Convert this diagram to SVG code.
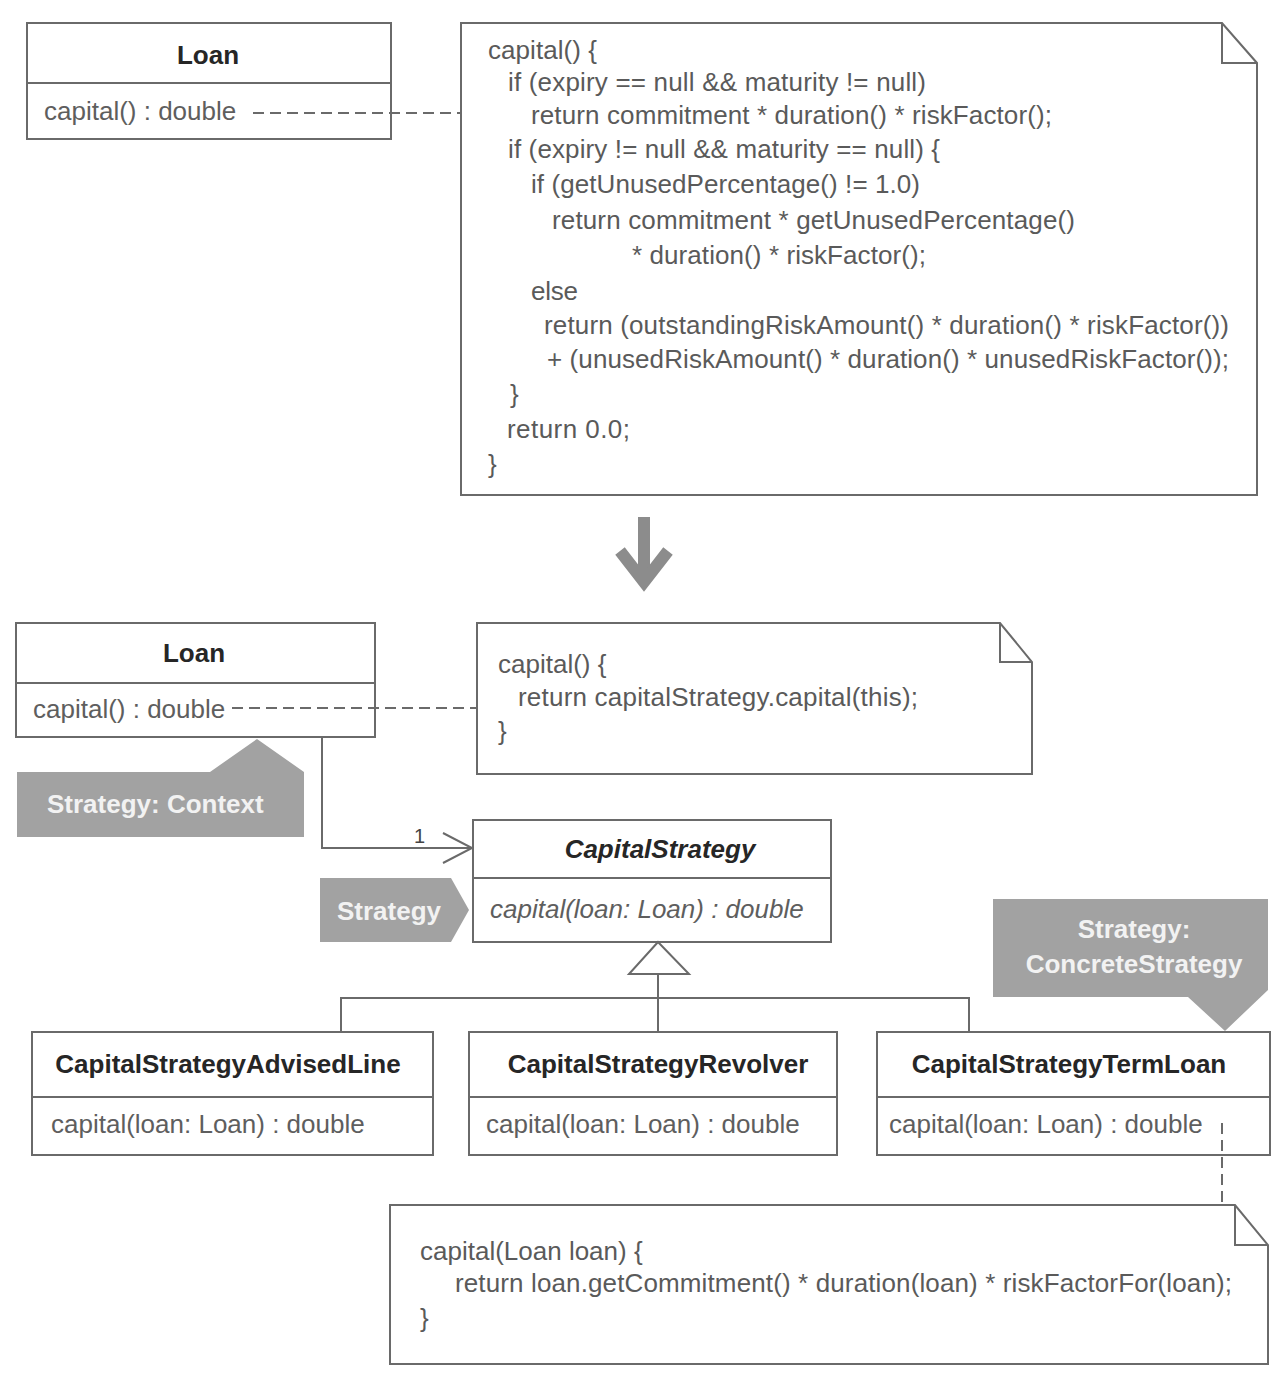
<svg xmlns="http://www.w3.org/2000/svg" width="1286" height="1394" viewBox="0 0 1286 1394">
<style>
  .box{fill:#fff;stroke:#6a6a6a;stroke-width:2}
  .ln{fill:none;stroke:#6a6a6a;stroke-width:2}
  .dash{fill:none;stroke:#6a6a6a;stroke-width:2;stroke-dasharray:11 6}
  .code{font-family:"Liberation Sans",Arial,sans-serif;font-size:26px;fill:#5a5a5a}
  .name{font-family:"Liberation Sans",Arial,sans-serif;font-size:26px;font-weight:bold;fill:#262626}
  .meth{font-family:"Liberation Sans",Arial,sans-serif;font-size:26px;fill:#5e5e5e}
  .tag{fill:#a2a2a2;stroke:none}
  .tagt{font-family:"Liberation Sans",Arial,sans-serif;font-size:26px;font-weight:bold;fill:#f2f2f2}
</style>
<rect width="1286" height="1394" fill="#fff"/>

<g id="loan-before">
  <rect class="box" x="27" y="23" width="364" height="116"/>
  <line class="ln" x1="27" y1="83" x2="391" y2="83"/>
  <text class="name" x="208" y="64" text-anchor="middle">Loan</text>
  <text class="meth" x="44" y="120">capital() : double</text>
</g>

<g id="note-before">
  <polygon class="box" points="461,23 1222,23 1257,63 1257,495 461,495"/>
  <polyline class="ln" points="1222,23 1222,63 1257,63"/>
  <text class="code" x="488" y="59" textLength="109">capital() {</text>
  <text class="code" x="508" y="91" textLength="418">if (expiry == null &amp;&amp; maturity != null)</text>
  <text class="code" x="531" y="124" textLength="521">return commitment * duration() * riskFactor();</text>
  <text class="code" x="508" y="158" textLength="432">if (expiry != null &amp;&amp; maturity == null) {</text>
  <text class="code" x="531" y="193" textLength="389">if (getUnusedPercentage() != 1.0)</text>
  <text class="code" x="552" y="229" textLength="523">return commitment * getUnusedPercentage()</text>
  <text class="code" x="632" y="264" textLength="294">* duration() * riskFactor();</text>
  <text class="code" x="531" y="300" textLength="47">else</text>
  <text class="code" x="544" y="334" textLength="685">return (outstandingRiskAmount() * duration() * riskFactor())</text>
  <text class="code" x="547" y="368" textLength="682">+ (unusedRiskAmount() * duration() * unusedRiskFactor());</text>
  <text class="code" x="510" y="403">}</text>
  <text class="code" x="507" y="438" textLength="123">return 0.0;</text>
  <text class="code" x="488" y="473">}</text>
</g>

<g id="loan-after">
  <rect class="box" x="16" y="623" width="359" height="114"/>
  <line class="ln" x1="16" y1="683" x2="375" y2="683"/>
  <text class="name" x="194" y="662" text-anchor="middle">Loan</text>
  <text class="meth" x="33" y="718">capital() : double</text>
</g>

<g id="tag-context">
  <polygon class="tag" points="17,772 210,772 257,739 304,772 304,837 17,837"/>
  <text class="tagt" x="47" y="813">Strategy: Context</text>
</g>

<g id="note-after">
  <polygon class="box" points="477,623 1000,623 1032,662 1032,774 477,774"/>
  <polyline class="ln" points="1000,623 1000,662 1032,662"/>
  <text class="code" x="498" y="673">capital() {</text>
  <text class="code" x="518" y="706" textLength="400">return capitalStrategy.capital(this);</text>
  <text class="code" x="498" y="740">}</text>
</g>

<g id="capital-strategy">
  <rect class="box" x="473" y="820" width="358" height="122"/>
  <line class="ln" x1="473" y1="878" x2="831" y2="878"/>
  <text class="name" x="660" y="858" text-anchor="middle" font-style="italic">CapitalStrategy</text>
  <text class="meth" x="490" y="918" font-style="italic">capital(loan: Loan) : double</text>
</g>

<g id="tag-strategy">
  <polygon class="tag" points="320,878 451,878 469,910 451,942 320,942"/>
  <text class="tagt" x="337" y="920">Strategy</text>
</g>

<g id="tag-concrete">
  <polygon class="tag" points="993,899 1268,899 1268,990 1225,1031 1188,997 993,997"/>
  <text class="tagt" x="1134" y="938" text-anchor="middle">Strategy:</text>
  <text class="tagt" x="1134" y="973" text-anchor="middle">ConcreteStrategy</text>
</g>

<g id="advised-line">
  <rect class="box" x="32" y="1032" width="401" height="123"/>
  <line class="ln" x1="32" y1="1097" x2="433" y2="1097"/>
  <text class="name" x="228" y="1073" text-anchor="middle">CapitalStrategyAdvisedLine</text>
  <text class="meth" x="51" y="1133">capital(loan: Loan) : double</text>
</g>

<g id="revolver">
  <rect class="box" x="469" y="1032" width="368" height="123"/>
  <line class="ln" x1="469" y1="1097" x2="837" y2="1097"/>
  <text class="name" x="658" y="1073" text-anchor="middle">CapitalStrategyRevolver</text>
  <text class="meth" x="486" y="1133">capital(loan: Loan) : double</text>
</g>

<g id="term-loan">
  <rect class="box" x="877" y="1032" width="393" height="123"/>
  <line class="ln" x1="877" y1="1097" x2="1270" y2="1097"/>
  <text class="name" x="1069" y="1073" text-anchor="middle">CapitalStrategyTermLoan</text>
  <text class="meth" x="889" y="1133">capital(loan: Loan) : double</text>
</g>

<g id="note-termloan">
  <polygon class="box" points="390,1205 1235,1205 1268,1245 1268,1364 390,1364"/>
  <polyline class="ln" points="1235,1205 1235,1245 1268,1245"/>
  <text class="code" x="420" y="1260">capital(Loan loan) {</text>
  <text class="code" x="455" y="1292" textLength="777">return loan.getCommitment() * duration(loan) * riskFactorFor(loan);</text>
  <text class="code" x="420" y="1327">}</text>
</g>

<g id="connectors">
  <line class="dash" x1="253" y1="113" x2="461" y2="113"/>
  <line class="dash" x1="232" y1="708" x2="477" y2="708"/>
  <polyline class="ln" points="322,737 322,848 472,848"/>
  <polyline class="ln" points="443,833 472,848 443,863"/>
  <text x="414" y="843" font-family="Liberation Sans,Arial,sans-serif" font-size="20" fill="#444">1</text>
  <polygon points="658,942 629,974 689,974" fill="#fff" stroke="#6a6a6a" stroke-width="2"/>
  <line class="ln" x1="658" y1="974" x2="658" y2="1032"/>
  <polyline class="ln" points="341,1032 341,998 969,998 969,1032"/>
  <line class="dash" x1="1222" y1="1123" x2="1222" y2="1205"/>
  <g id="transform-arrow" stroke="#8c8c8c" stroke-width="12" fill="none">
    <line x1="644" y1="517" x2="644" y2="580"/>
    <polyline points="620,551 644,582 668,551" stroke-linejoin="miter"/>
  </g>
</g>
</svg>
